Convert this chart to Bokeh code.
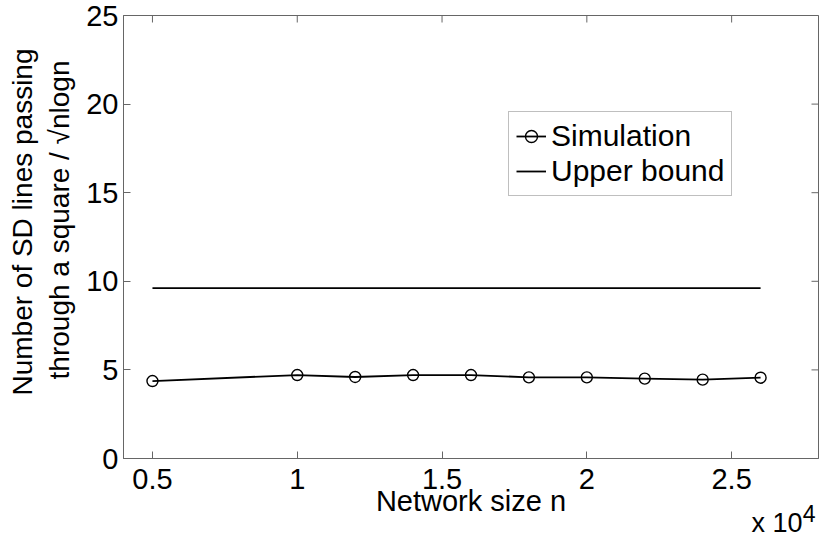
from math import pi

from bokeh.embed import file_html
from bokeh.models import (ColumnDataSource, FixedTicker, Legend, LegendItem,
                          Range1d, Title)
from bokeh.plotting import figure
from bokeh.resources import INLINE

# ---- data -------------------------------------------------------------
network_size = [5000, 10000, 12000, 14000, 16000, 18000, 20000, 22000, 24000, 26000]
simulation = [4.37, 4.71, 4.60, 4.71, 4.71, 4.58, 4.58, 4.51, 4.45, 4.56]
upper_bound = [9.62, 9.62, 9.62, 9.62, 9.62, 9.62, 9.62, 9.62, 9.62, 9.62]

x_ticks = [5000, 10000, 15000, 20000, 25000]
x_tick_labels = ["0.5", "1", "1.5", "2", "2.5"]
y_ticks = [0, 5, 10, 15, 20, 25]

x_min, x_max = 4000, 28000
y_min, y_max = 0, 25

FONT = "Liberation Sans"
AXIS_GREY = "#666666"

src = ColumnDataSource(dict(n=network_size, sim=simulation, ub=upper_bound))

p = figure(
    width=821, height=537,
    x_range=Range1d(x_min, x_max), y_range=Range1d(y_min, y_max),
    min_border_left=123, min_border_right=3,
    min_border_top=15, min_border_bottom=79,
    toolbar_location=None, output_backend="svg",
    background_fill_color="white", border_fill_color="white",
)
p.grid.visible = False
p.outline_line_color = AXIS_GREY
p.outline_line_width = 1

# ---- main axes (ticks pointing inwards) ---------------------------------
for ax, ticks in ((p.xaxis[0], x_ticks), (p.yaxis[0], y_ticks)):
    ax.ticker = FixedTicker(ticks=ticks)
    ax.axis_line_color = AXIS_GREY
    ax.major_tick_line_color = AXIS_GREY
    ax.major_tick_in = 7
    ax.major_tick_out = 0
    ax.minor_tick_line_color = None
    ax.major_label_text_font = FONT
    ax.major_label_text_font_size = "29px"
    ax.major_label_text_color = "black"

xa = p.xaxis[0]
xa.major_label_overrides = dict(zip(x_ticks, x_tick_labels))
xa.major_label_standoff = 10
xa.axis_label = "Network size n"
xa.axis_label_standoff = -7
xa.axis_label_text_font = FONT
xa.axis_label_text_font_size = "29px"
xa.axis_label_text_font_style = "normal"
xa.axis_label_text_color = "black"

ya = p.yaxis[0]
ya.major_label_standoff = 5


def side_text(text, size, align, vertical_align, offset, standoff):
    return Title(text=text, align=align, vertical_align=vertical_align,
                 offset=offset, standoff=standoff,
                 text_font=FONT, text_font_size=size,
                 text_font_style="normal", text_color="black")


# two-line y title (nearest line first)
p.add_layout(side_text("through a square / \u221anlogn", "28px",
                       "right", "bottom", 45, 17), "left")
p.add_layout(side_text("Number of SD lines passing", "28px",
                       "right", "bottom", 33, -8), "left")

# "x 10^4" multiplier under the right end of the x axis
p.add_layout(side_text("x 10", "27px", "right", "top", 16, -24), "below")
p.add_layout(side_text("4", "23px", "right", "top", 3, -46), "below")

# mirrored tick marks on the top and right edges of the box
p.scatter(x=x_ticks, y=[y_max] * len(x_ticks), marker="dash", angle=pi / 2,
          size=14, line_color=AXIS_GREY, line_width=1)
p.scatter(x=[x_max] * len(y_ticks), y=y_ticks, marker="dash",
          size=14, line_color=AXIS_GREY, line_width=1)

# ---- series -----------------------------------------------------------
sim_line = p.line("n", "sim", source=src, line_color="black", line_width=1.8)
sim_marks = p.scatter("n", "sim", source=src, marker="circle", size=11,
                      line_color="black", line_width=1.4, fill_color=None)
ub_line = p.line("n", "ub", source=src, line_color="black", line_width=1.8)

legend = Legend(
    items=[LegendItem(label="Simulation", renderers=[sim_line, sim_marks]),
           LegendItem(label="Upper bound", renderers=[ub_line])],
    location=(385, 262), margin=0, padding=7, spacing=1,
    glyph_width=30, glyph_height=34, label_height=34, label_standoff=5,
    label_text_font=FONT, label_text_font_size="30px", label_text_color="black",
    border_line_color="#808080", border_line_width=1,
    background_fill_color="white", background_fill_alpha=1,
)
p.add_layout(legend)

open("out.html", "w").write(file_html(p, INLINE))
